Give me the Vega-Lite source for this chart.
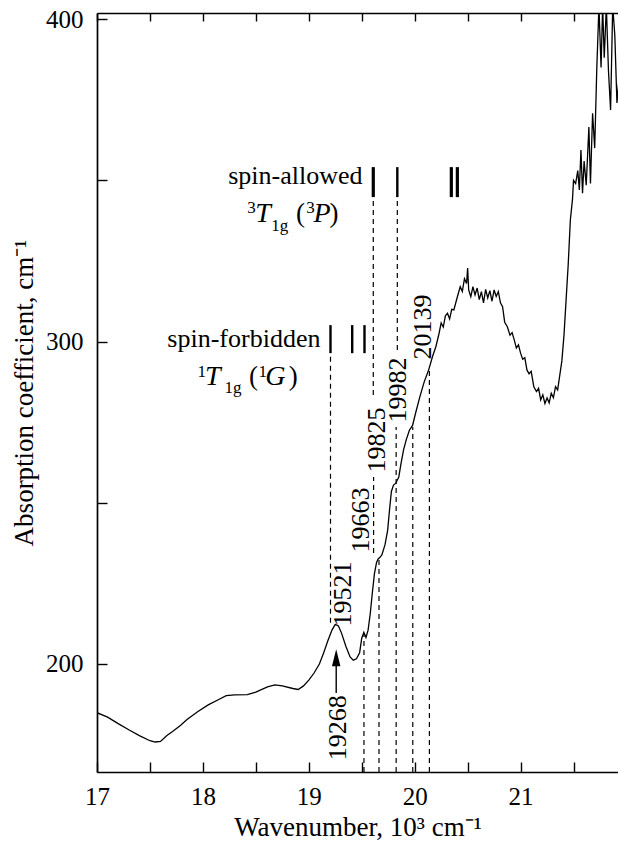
{
  "$schema": "https://vega.github.io/schema/vega-lite/v6.json",
  "width": 521,
  "height": 759,
  "autosize": "none",
  "padding": {"left": 97, "top": 13, "right": 0, "bottom": 69},
  "background": "white",
  "config": {
    "view": {"stroke": null},
    "font": "Liberation Serif",
    "axis": {
      "domainColor": "black",
      "domainWidth": 1.7,
      "tickColor": "black",
      "tickWidth": 1.4,
      "grid": false,
      "labelColor": "black",
      "titleColor": "black",
      "labelFont": "Liberation Serif",
      "titleFont": "Liberation Serif",
      "labelFontSize": 25,
      "titleFontSize": 27,
      "titleFontWeight": "normal"
    }
  },
  "datasets": {
    "curve": [
      {"x": 17.0, "y": 184.9}, {"x": 17.1, "y": 183.5}, {"x": 17.2, "y": 181.5}, {"x": 17.3, "y": 179.6},
      {"x": 17.4, "y": 177.8}, {"x": 17.5, "y": 176.2}, {"x": 17.55, "y": 175.8}, {"x": 17.6, "y": 176.0},
      {"x": 17.66, "y": 177.8}, {"x": 17.72, "y": 179.2}, {"x": 17.79, "y": 181.0}, {"x": 17.85, "y": 182.8},
      {"x": 17.95, "y": 185.2}, {"x": 18.05, "y": 187.3}, {"x": 18.15, "y": 189.0}, {"x": 18.22, "y": 190.2},
      {"x": 18.3, "y": 190.4}, {"x": 18.42, "y": 190.5}, {"x": 18.5, "y": 191.3}, {"x": 18.61, "y": 192.9},
      {"x": 18.68, "y": 193.5}, {"x": 18.75, "y": 193.2}, {"x": 18.85, "y": 192.4}, {"x": 18.9, "y": 192.1},
      {"x": 18.95, "y": 193.2}, {"x": 19.0, "y": 195.0}, {"x": 19.05, "y": 197.2}, {"x": 19.1, "y": 200.0},
      {"x": 19.14, "y": 203.4}, {"x": 19.18, "y": 207.2}, {"x": 19.22, "y": 210.6}, {"x": 19.25, "y": 212.3},
      {"x": 19.28, "y": 211.8}, {"x": 19.31, "y": 209.5}, {"x": 19.35, "y": 205.5}, {"x": 19.39, "y": 202.2},
      {"x": 19.42, "y": 201.2}, {"x": 19.45, "y": 201.6}, {"x": 19.48, "y": 203.5}, {"x": 19.5, "y": 208.0},
      {"x": 19.52, "y": 209.8}, {"x": 19.54, "y": 208.2}, {"x": 19.56, "y": 210.5}, {"x": 19.58, "y": 215.5},
      {"x": 19.6, "y": 222.0}, {"x": 19.62, "y": 228.0}, {"x": 19.64, "y": 231.5}, {"x": 19.655, "y": 232.6},
      {"x": 19.67, "y": 233.0}, {"x": 19.69, "y": 233.8}, {"x": 19.72, "y": 237.0}, {"x": 19.745, "y": 241.5},
      {"x": 19.76, "y": 247.0}, {"x": 19.78, "y": 253.5}, {"x": 19.8, "y": 255.5}, {"x": 19.82, "y": 256.0},
      {"x": 19.85, "y": 258.0}, {"x": 19.87, "y": 262.0}, {"x": 19.895, "y": 266.4}, {"x": 19.92, "y": 269.5},
      {"x": 19.95, "y": 272.5}, {"x": 19.98, "y": 274.0}, {"x": 20.01, "y": 278.0}, {"x": 20.05, "y": 283.0},
      {"x": 20.09, "y": 287.5}, {"x": 20.13, "y": 291.0}, {"x": 20.17, "y": 295.5}, {"x": 20.2, "y": 298.4},
      {"x": 20.23, "y": 302.5}, {"x": 20.25, "y": 305.8}, {"x": 20.27, "y": 304.5}, {"x": 20.29, "y": 308.0},
      {"x": 20.31, "y": 308.8}, {"x": 20.33, "y": 307.0}, {"x": 20.35, "y": 310.0}, {"x": 20.37, "y": 309.8},
      {"x": 20.4, "y": 313.5}, {"x": 20.43, "y": 317.0}, {"x": 20.45, "y": 315.5}, {"x": 20.47, "y": 319.5},
      {"x": 20.49, "y": 318.0}, {"x": 20.5, "y": 322.8}, {"x": 20.51, "y": 316.0}, {"x": 20.53, "y": 313.9},
      {"x": 20.55, "y": 317.0}, {"x": 20.57, "y": 314.5}, {"x": 20.59, "y": 316.6}, {"x": 20.61, "y": 313.0},
      {"x": 20.63, "y": 315.5}, {"x": 20.65, "y": 312.0}, {"x": 20.67, "y": 316.2}, {"x": 20.69, "y": 313.5},
      {"x": 20.71, "y": 315.8}, {"x": 20.73, "y": 312.5}, {"x": 20.75, "y": 316.0}, {"x": 20.77, "y": 314.0},
      {"x": 20.79, "y": 315.5}, {"x": 20.81, "y": 312.0}, {"x": 20.83, "y": 310.8}, {"x": 20.85, "y": 306.0},
      {"x": 20.875, "y": 304.6}, {"x": 20.9, "y": 302.0}, {"x": 20.92, "y": 302.8}, {"x": 20.94, "y": 300.5},
      {"x": 20.96, "y": 298.0}, {"x": 20.98, "y": 299.0}, {"x": 21.0, "y": 296.4}, {"x": 21.02, "y": 294.5},
      {"x": 21.04, "y": 295.0}, {"x": 21.06, "y": 291.2}, {"x": 21.08, "y": 290.0}, {"x": 21.1, "y": 290.8},
      {"x": 21.125, "y": 286.0}, {"x": 21.15, "y": 284.5}, {"x": 21.17, "y": 285.5}, {"x": 21.19, "y": 281.9},
      {"x": 21.21, "y": 283.5}, {"x": 21.23, "y": 280.8}, {"x": 21.25, "y": 282.5}, {"x": 21.27, "y": 281.0},
      {"x": 21.29, "y": 284.0}, {"x": 21.31, "y": 282.6}, {"x": 21.33, "y": 286.0}, {"x": 21.35, "y": 285.0},
      {"x": 21.37, "y": 289.5}, {"x": 21.39, "y": 294.0}, {"x": 21.41, "y": 302.0}, {"x": 21.43, "y": 313.0},
      {"x": 21.45, "y": 324.0}, {"x": 21.47, "y": 337.7}, {"x": 21.49, "y": 344.0}, {"x": 21.5, "y": 350.0},
      {"x": 21.52, "y": 349.0}, {"x": 21.54, "y": 353.0}, {"x": 21.555, "y": 347.0}, {"x": 21.57, "y": 359.4},
      {"x": 21.585, "y": 346.0}, {"x": 21.6, "y": 356.0}, {"x": 21.62, "y": 348.5}, {"x": 21.645, "y": 366.5},
      {"x": 21.66, "y": 349.0}, {"x": 21.68, "y": 370.8}, {"x": 21.7, "y": 360.0}, {"x": 21.72, "y": 385.0},
      {"x": 21.74, "y": 404.0}, {"x": 21.76, "y": 385.0}, {"x": 21.775, "y": 404.0}, {"x": 21.79, "y": 388.0},
      {"x": 21.81, "y": 404.0}, {"x": 21.83, "y": 384.0}, {"x": 21.85, "y": 371.8}, {"x": 21.87, "y": 404.0},
      {"x": 21.89, "y": 395.0}, {"x": 21.91, "y": 374.0}, {"x": 21.925, "y": 380.0}
    ],
    "leaders": [
      {"x": 19.205, "y": 212.8, "y2": 296.4},
      {"x": 19.609, "y": 283.4, "y2": 344.8},
      {"x": 19.612, "y": 234.4, "y2": 258.0},
      {"x": 19.521, "y": 166.5, "y2": 209.6},
      {"x": 19.663, "y": 166.5, "y2": 232.9},
      {"x": 19.825, "y": 166.5, "y2": 273.5},
      {"x": 19.836, "y": 297.4, "y2": 344.8},
      {"x": 19.982, "y": 166.5, "y2": 273.5},
      {"x": 20.139, "y": 166.5, "y2": 291.0}
    ],
    "bars": [
      {"x": 19.836, "y": 344.8, "y2": 354.1},
      {"x": 19.205, "y": 296.4, "y2": 305.1},
      {"x": 19.41, "y": 296.4, "y2": 305.1},
      {"x": 19.526, "y": 296.4, "y2": 305.1}
    ],
    "thickbars": [
      {"x": 19.609, "y": 344.8, "y2": 354.1},
      {"x": 20.346, "y": 344.8, "y2": 354.1},
      {"x": 20.403, "y": 344.8, "y2": 354.1}
    ],
    "arrow": [{"x": 19.259, "y": 191.0, "y2": 200.5}],
    "arrowhead": [{"x": 19.259, "y": 201.9}],
    "numbers": [
      {"x": 19.28, "y": 180.2, "t": "19268"},
      {"x": 19.327, "y": 221.7, "t": "19521"},
      {"x": 19.497, "y": 244.65, "t": "19663"},
      {"x": 19.648, "y": 269.5, "t": "19825"},
      {"x": 19.847, "y": 285.0, "t": "19982"},
      {"x": 20.074, "y": 304.5, "t": "20139"}
    ],
    "spin": [
      {"x": 19.507, "y": 348.8, "t": "spin-allowed"},
      {"x": 19.11, "y": 298.3, "t": "spin-forbidden"}
    ],
    "termItalic": [
      {"x": 18.495, "y": 337.05, "t": "T"},
      {"x": 19.045, "y": 337.05, "t": "P"},
      {"x": 18.02, "y": 286.5, "t": "T"},
      {"x": 18.59, "y": 286.5, "t": "G"}
    ],
    "termRoman": [
      {"x": 18.88, "y": 337.05, "t": "("},
      {"x": 19.195, "y": 337.05, "t": ")"},
      {"x": 18.435, "y": 286.5, "t": "("},
      {"x": 18.81, "y": 286.5, "t": ")"}
    ],
    "termSmall": [
      {"x": 18.42, "y": 340.0, "t": "3"},
      {"x": 18.645, "y": 334.4, "t": "1g"},
      {"x": 18.975, "y": 340.0, "t": "3"},
      {"x": 17.948, "y": 289.0, "t": "1"},
      {"x": 18.205, "y": 283.9, "t": "1g"},
      {"x": 18.525, "y": 289.0, "t": "1"}
    ],
    "topaxis": [{"x": 17}]
  },
  "layer": [
    {
      "layer": [
        {
          "data": {"name": "curve"},
          "mark": {"type": "line", "color": "black", "strokeWidth": 1.3, "clip": true},
          "encoding": {
            "x": {
              "field": "x", "type": "quantitative",
              "scale": {"domain": [17, 21.92], "nice": false, "zero": false},
              "axis": {
                "orient": "bottom",
                "values": [17, 17.5, 18, 18.5, 19, 19.5, 20, 20.5, 21, 21.5],
                "labelExpr": "datum.value % 1 == 0 ? format(datum.value, 'd') : ''",
                "tickSize": -10,
                "labelPadding": 22,
                "labelFlush": false,
                "labelOverlap": false,
                "title": "Wavenumber, 10³ cm⁻¹",
                "titleBaseline": "alphabetic",
                "titleY": 63
              }
            },
            "y": {
              "field": "y", "type": "quantitative",
              "scale": {"domain": [166.5, 401.9], "nice": false, "zero": false},
              "axis": {
                "values": [200, 250, 300, 350, 400],
                "labelExpr": "datum.value % 100 == 0 ? format(datum.value, 'd') : ''",
                "tickSize": -10,
                "labelPadding": 24,
                "labelOverlap": false,
                "title": "Absorption coefficient, cm⁻¹",
                "titlePadding": 7
              }
            }
          }
        },
        {
          "data": {"name": "leaders"},
          "mark": {"type": "rule", "color": "black", "strokeWidth": 1.2, "strokeDash": [5, 4]},
          "encoding": {
            "x": {"field": "x", "type": "quantitative"},
            "y": {"field": "y", "type": "quantitative"},
            "y2": {"field": "y2"}
          }
        },
        {
          "data": {"name": "bars"},
          "mark": {"type": "rule", "color": "black", "strokeWidth": 2.4},
          "encoding": {
            "x": {"field": "x", "type": "quantitative"},
            "y": {"field": "y", "type": "quantitative"},
            "y2": {"field": "y2"}
          }
        },
        {
          "data": {"name": "thickbars"},
          "mark": {"type": "rule", "color": "black", "strokeWidth": 3.2},
          "encoding": {
            "x": {"field": "x", "type": "quantitative"},
            "y": {"field": "y", "type": "quantitative"},
            "y2": {"field": "y2"}
          }
        },
        {
          "data": {"name": "arrow"},
          "mark": {"type": "rule", "color": "black", "strokeWidth": 1.4},
          "encoding": {
            "x": {"field": "x", "type": "quantitative"},
            "y": {"field": "y", "type": "quantitative"},
            "y2": {"field": "y2"}
          }
        },
        {
          "data": {"name": "arrowhead"},
          "mark": {"type": "point", "shape": "M0,-1L0.5,1L-0.5,1Z", "size": 289, "filled": true, "color": "black", "opacity": 1},
          "encoding": {
            "x": {"field": "x", "type": "quantitative"},
            "y": {"field": "y", "type": "quantitative"}
          }
        },
        {
          "data": {"name": "numbers"},
          "mark": {"type": "text", "angle": 270, "align": "center", "baseline": "middle", "fontSize": 26, "font": "Liberation Serif", "color": "black"},
          "encoding": {
            "x": {"field": "x", "type": "quantitative"},
            "y": {"field": "y", "type": "quantitative"},
            "text": {"field": "t"}
          }
        },
        {
          "data": {"name": "spin"},
          "mark": {"type": "text", "align": "right", "baseline": "alphabetic", "fontSize": 26, "font": "Liberation Serif", "color": "black"},
          "encoding": {
            "x": {"field": "x", "type": "quantitative"},
            "y": {"field": "y", "type": "quantitative"},
            "text": {"field": "t"}
          }
        },
        {
          "data": {"name": "termItalic"},
          "mark": {"type": "text", "align": "left", "baseline": "alphabetic", "fontSize": 28, "fontStyle": "italic", "font": "Liberation Serif", "color": "black"},
          "encoding": {
            "x": {"field": "x", "type": "quantitative"},
            "y": {"field": "y", "type": "quantitative"},
            "text": {"field": "t"}
          }
        },
        {
          "data": {"name": "termRoman"},
          "mark": {"type": "text", "align": "left", "baseline": "alphabetic", "fontSize": 27, "font": "Liberation Serif", "color": "black"},
          "encoding": {
            "x": {"field": "x", "type": "quantitative"},
            "y": {"field": "y", "type": "quantitative"},
            "text": {"field": "t"}
          }
        },
        {
          "data": {"name": "termSmall"},
          "mark": {"type": "text", "align": "left", "baseline": "alphabetic", "fontSize": 17, "font": "Liberation Serif", "color": "black"},
          "encoding": {
            "x": {"field": "x", "type": "quantitative"},
            "y": {"field": "y", "type": "quantitative"},
            "text": {"field": "t"}
          }
        }
      ]
    },
    {
      "data": {"name": "topaxis"},
      "mark": {"type": "rule", "opacity": 0},
      "encoding": {
        "x": {
          "field": "x", "type": "quantitative",
          "axis": {
            "orient": "top",
            "values": [17, 17.5, 18, 18.5, 19, 19.5, 20, 20.5, 21, 21.5],
            "labels": false,
            "tickSize": -8,
            "title": null
          }
        }
      }
    }
  ],
  "resolve": {"axis": {"x": "independent"}}
}
